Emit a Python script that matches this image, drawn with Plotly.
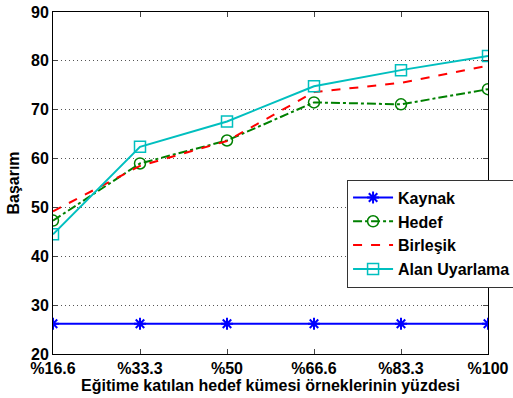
import plotly.graph_objects as go

categories = ["%16.6", "%33.3", "%50", "%66.6", "%83.3", "%100"]
kaynak = [26.2, 26.2, 26.2, 26.2, 26.2, 26.2]
hedef = [47.3, 59.0, 63.7, 71.5, 71.1, 74.2]
birlesik = [49.2, 58.5, 63.6, 73.6, 75.5, 79.0]
alan = [44.5, 62.4, 67.6, 74.8, 78.1, 81.0]

font = "Liberation Sans, Arial, sans-serif"
fig = go.Figure()
fig.add_trace(go.Scatter(x=categories, y=kaynak, name="<b>Kaynak</b>", mode="lines+markers",
                         line=dict(color="#0000FF", width=2),
                         marker=dict(symbol="asterisk-open", size=10, line=dict(color="#0000FF", width=2))))
fig.add_trace(go.Scatter(x=categories, y=hedef, name="<b>Hedef</b>", mode="lines+markers",
                         line=dict(color="#008000", width=2, dash="dashdot"),
                         marker=dict(symbol="circle-open", size=11, line=dict(color="#008000", width=1.5))))
fig.add_trace(go.Scatter(x=categories, y=birlesik, name="<b>Birleşik</b>", mode="lines",
                         line=dict(color="#FF0000", width=2, dash="dash")))
fig.add_trace(go.Scatter(x=categories, y=alan, name="<b>Alan Uyarlama</b>", mode="lines+markers",
                         line=dict(color="#00BFBF", width=2),
                         marker=dict(symbol="square-open", size=11, line=dict(color="#00BFBF", width=1.5))))

fig.update_layout(
    width=513, height=398,
    margin=dict(l=53, r=25, t=12, b=44, autoexpand=False),
    paper_bgcolor="white", plot_bgcolor="white",
    font=dict(family=font, size=16, color="black", weight="bold"),
    showlegend=True,
    legend=dict(x=0.676, y=0.51, xanchor="left", yanchor="top",
                bordercolor="#333", borderwidth=1, bgcolor="white",
                font=dict(family=font, size=16, weight="bold"), tracegroupgap=0, itemwidth=40),
    xaxis=dict(type="category", range=[0, 5], showgrid=False, ticks="inside", ticklen=5,
               mirror="ticks", showline=True, linecolor="black", linewidth=1, automargin=False,
               tickfont=dict(size=16, weight="bold"),
               title=dict(text="Eğitime katılan hedef kümesi örneklerinin yüzdesi",
                          font=dict(size=16, weight="bold"), standoff=1)),
    yaxis=dict(range=[20, 90], dtick=10, showgrid=True, gridcolor="#555", griddash="1px,3px", gridwidth=1,
               ticks="inside", ticklen=5, mirror="ticks", showline=True, linecolor="black", linewidth=1,
               zeroline=False, tickfont=dict(size=16, weight="bold"), automargin=False,
               title=dict(text="Başarım", font=dict(size=16, weight="bold"), standoff=7)),
)
fig.write_html("out.html", config={"displayModeBar": False},
               post_script="document.body.style.margin='0';")
